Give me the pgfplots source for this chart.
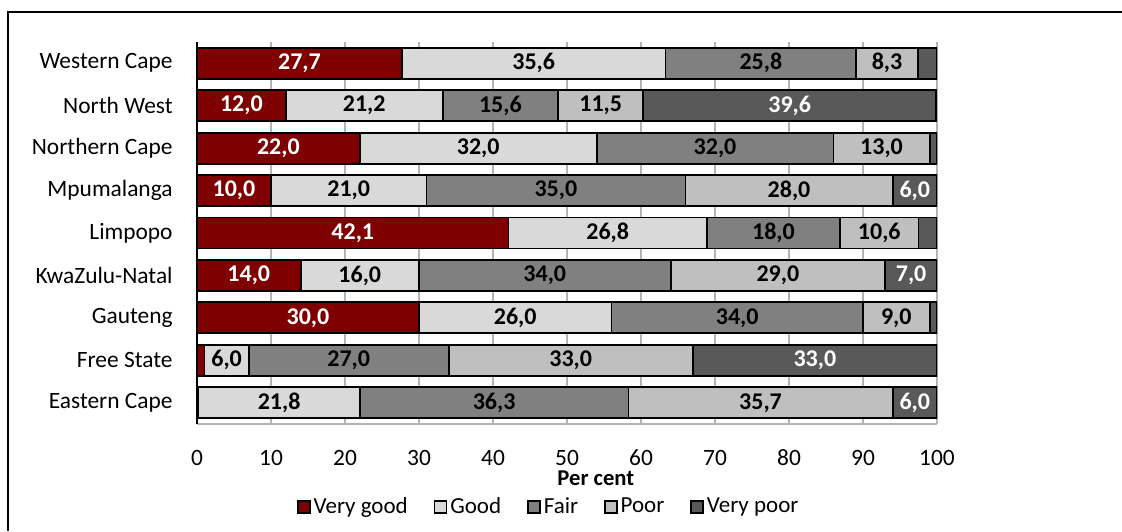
\documentclass[border=0pt]{standalone}
\usepackage{fontspec}
\setmainfont{Carlito}
\usepackage{pgfplots}
\usepackage{pgfplotstable}
\pgfplotsset{compat=1.18}

\definecolor{cVG}{HTML}{7F0000}
\definecolor{cGood}{HTML}{D9D9D9}
\definecolor{cFair}{HTML}{808080}
\definecolor{cPoor}{HTML}{BFBFBF}
\definecolor{cVP}{HTML}{595959}
\definecolor{gridgray}{HTML}{B4B4B4}

% Share of roads by condition, per province (per cent); y = row position
\pgfplotstableread{
y vg   good fair poor vpoor
0 0.2  21.8 36.3 35.7 6.0
1 1.0  6.0  27.0 33.0 33.0
2 30.0 26.0 34.0 9.0  1.0
3 14.0 16.0 34.0 29.0 7.0
4 42.1 26.8 18.0 10.6 2.5
5 10.0 21.0 35.0 28.0 6.0
6 22.0 32.0 32.0 13.0 1.0
7 12.0 21.2 15.6 11.5 39.6
8 27.7 35.6 25.8 8.3  2.6
}\provdata

\newcommand\txt{\fontsize{11.7}{14}\selectfont}

% one stacked segment: fill colour, label colour, table column
\pgfplotsset{
  seg/.style n args={3}{
    fill=#1, draw=black, line width=0.9pt,
    visualization depends on={\thisrow{#3} \as \segw},
    nodes near coords={\pgfmathtruncatemacro\showlbl{\segw>=3}%
      \ifnum\showlbl=1 \pgfmathprintnumber[fixed,fixed zerofill,precision=1,use comma,assume math mode=true]{\segw}\fi},
    every node near coord/.append style={
      anchor=center, text=#2, inner sep=0pt,
      font=\fontsize{12}{14}\selectfont\bfseries},
  },
}

\begin{document}
\txt
\begin{tikzpicture}
\useasboundingbox (0,0) rectangle (561pt,265.5pt);
% outer frame
\draw[line width=1.1pt] (4pt,0) -- (4pt,259.5pt) -- (562pt,259.5pt);
\begin{axis}[
  at={(98.5pt,53.5pt)}, anchor=south west,
  scale only axis, width=370pt, height=191pt,
  xbar stacked, bar width=15.5pt,
  xmin=0, xmax=100, ymin=-0.5, ymax=8.5,
  xtick={0,10,...,100},
  ytick={0,...,8},
  yticklabels={Eastern Cape, Free State, Gauteng, KwaZulu-Natal, Limpopo,
               Mpumalanga, Northern Cape, North West, Western Cape},
  /pgf/number format/assume math mode=true,
  axis x line=bottom, axis y line=left,
  axis line style={-},
  x axis line style={draw=gridgray, line width=1pt},
  y axis line style={draw=black, line width=1pt},
  major tick length=0pt,
  xmajorgrids, grid style={draw=gridgray, line width=1pt},
  xticklabel style={anchor=north, inner sep=0pt, yshift=-12.8pt, font=\txt},
  yticklabel style={anchor=east, inner sep=0pt, xshift=-12pt, font=\txt},
  xlabel={Per cent},
  xlabel style={at={(axis description cs:0.539,-0.143)}, anchor=center,
                font=\fontsize{11.3}{14}\selectfont\bfseries},
  legend style={at={(axis description cs:0.476,-0.217)}, anchor=center,
                draw=none, fill=none, legend columns=-1,
                font=\fontsize{11.5}{14}\selectfont,
                /tikz/every odd column/.append style={column sep=0pt},
                /tikz/every even column/.append style={column sep=11.5pt},
                nodes={inner sep=1.5pt}},
  legend image code/.code={\draw[#1, draw=black, line width=0.8pt]
                (0pt,-3pt) rectangle (6pt,3pt);},
]
\addplot[seg={cVG}{white}{vg}]      table[x=vg,    y=y] {\provdata};
\addplot[seg={cGood}{black}{good}]  table[x=good,  y=y] {\provdata};
\addplot[seg={cFair}{black}{fair}]  table[x=fair,  y=y] {\provdata};
\addplot[seg={cPoor}{black}{poor}]  table[x=poor,  y=y] {\provdata};
\addplot[seg={cVP}{white}{vpoor}]   table[x=vpoor, y=y] {\provdata};
\legend{Very good, Good, Fair, Poor, Very poor}
\end{axis}
\end{tikzpicture}
\end{document}
